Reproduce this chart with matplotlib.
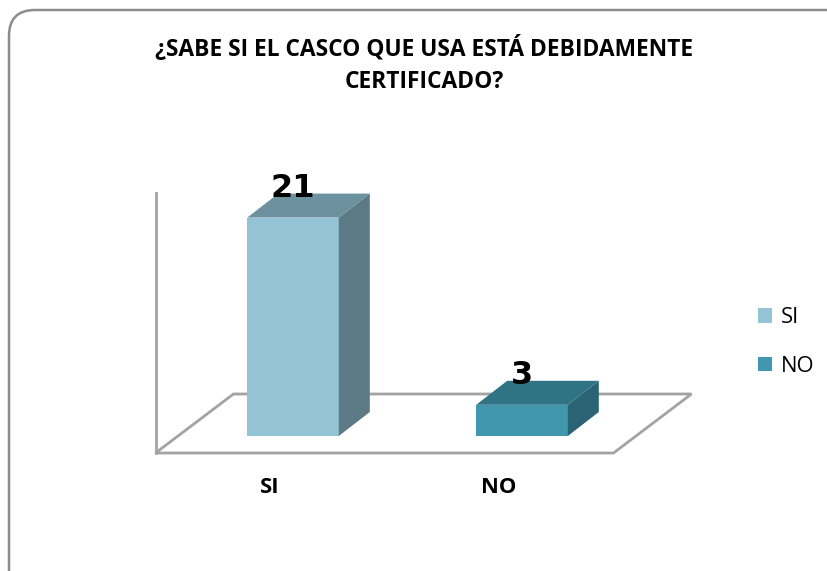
import matplotlib
matplotlib.use("Agg")
import matplotlib.pyplot as plt
from matplotlib.patches import Polygon, FancyBboxPatch, Patch

# data
categories = ["SI", "NO"]
values = [21, 3]
title_lines = ["¿SABE SI EL CASCO QUE USA ESTÁ DEBIDAMENTE", "CERTIFICADO?"]

front_colors = ["#93C3D5", "#4097AE"]
top_colors = ["#6C929F", "#2F7385"]
side_colors = ["#5C7A85", "#2A6474"]
grid_gray = "#A3A3A3"

W, H = 828, 571
fig = plt.figure(figsize=(W / 100, H / 100), dpi=100)

# background axes in pixel units for the frame and the title
bg = fig.add_axes([0, 0, 1, 1])
bg.set_xlim(0, W)
bg.set_ylim(H, 0)
bg.axis("off")
bg.add_patch(FancyBboxPatch((9, 10), 860, 620, boxstyle="round,pad=0,rounding_size=26",
                            fc="white", ec="#8C8C8C", lw=1.8))
bg.text(424.5, 49, title_lines[0], ha="center", va="center", fontsize=16.4,
        fontweight="bold", family="Open Sans")
bg.text(424.5, 82, title_lines[1], ha="center", va="center", fontsize=16.4,
        fontweight="bold", family="Open Sans")

# plotting plane of the bar fronts
ymax = 25
left_px, right_px = 178.5, 636.5
bottom_px, top_px = 436, 436 - 10.4 * ymax
ax = fig.add_axes([left_px / W, (H - bottom_px) / H,
                   (right_px - left_px) / W, (bottom_px - top_px) / H])
ax.set_xlim(-0.5, len(categories) - 0.5)
ax.set_ylim(0, ymax)
ax.axis("off")

px_x = (right_px - left_px) / len(categories)
px_y = (bottom_px - top_px) / ymax

def depth(dx, dy):
    # pixel offset -> data offset
    return dx / px_x, dy / px_y

fdx, fdy = depth(-23, -17)   # floor front
bdx, bdy = depth(55, 42)     # floor back
kdx, kdy = depth(31, 24)     # bar depth

x0, x1 = -0.5, len(categories) - 0.5
floor = [(x0 + fdx, fdy), (x1 + fdx, fdy), (x1 + bdx, bdy), (x0 + bdx, bdy)]
ax.add_patch(Polygon(floor, closed=True, fc="white", ec=grid_gray, lw=2, clip_on=False))
ax.plot([x0 + fdx, x0 + fdx], [fdy, ymax + fdy], color=grid_gray, lw=2, clip_on=False)

bw = 0.4
for i, v in enumerate(values):
    a, b = i - bw / 2, i + bw / 2
    ax.add_patch(Polygon([(a, 0), (b, 0), (b, v), (a, v)], fc=front_colors[i], ec="none", clip_on=False))
    ax.add_patch(Polygon([(b, 0), (b + kdx, kdy), (b + kdx, v + kdy), (b, v)],
                         fc=side_colors[i], ec="none", clip_on=False))
    ax.add_patch(Polygon([(a, v), (b, v), (b + kdx, v + kdy), (a + kdx, v + kdy)],
                         fc=top_colors[i], ec="none", clip_on=False))
    ax.text(i, v + 21 / px_y, str(v), ha="center", va="baseline", fontsize=23,
            fontweight="heavy", family="DejaVu Sans", color="black")
    ax.text(i + fdx, -(17 + 34.5) / px_y, categories[i], ha="center", va="center",
            fontsize=15.8, fontweight="bold", family="Open Sans", clip_on=False)

handles = [Patch(facecolor=c, edgecolor="none") for c in front_colors]
fig.legend(handles, categories, loc="upper left", bbox_to_anchor=(758 / W, 1 - 307 / H),
           frameon=False, prop={"family": "Open Sans", "size": 15.8},
           handlelength=0.65, handleheight=0.65, handletextpad=0.4,
           labelspacing=1.27, borderpad=0, borderaxespad=0)

fig.savefig("out.png", dpi=100)
